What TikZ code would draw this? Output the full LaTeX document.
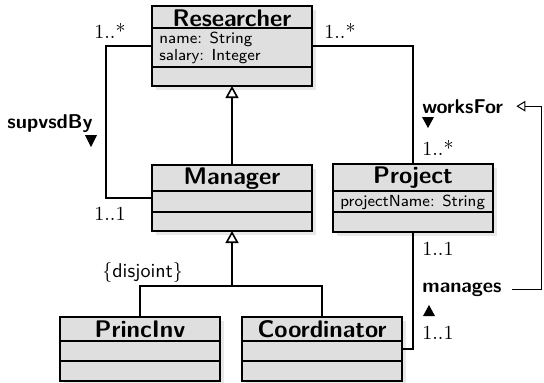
\documentclass[tikz,border=0pt]{standalone}
\usetikzlibrary{shadows,arrows.meta,calc}

\definecolor{classfill}{gray}{0.875}
\definecolor{shadowfill}{gray}{0.91}

\tikzset{
  classbox/.style={draw, line width=0.9pt, fill=classfill, minimum width=80pt,
    inner sep=0pt, outer sep=0pt, anchor=north west,
    drop shadow={shadow xshift=2pt, shadow yshift=-2pt, fill=shadowfill, opacity=1}},
  divider/.style={line width=0.9pt},
  clsname/.style={inner sep=0pt, anchor=base, font=\large\sffamily\bfseries},
  clsattr/.style={inner sep=0pt, anchor=base west, font=\footnotesize\sffamily},
  assoc/.style={line width=0.8pt},
  generalize/.style={line width=0.8pt, -{Triangle[open, width=6.5pt, length=6pt]}},
  constraint/.style={line width=0.5pt, -{Triangle[open, width=5.3pt, length=4.5pt]}},
  mult/.style={inner sep=0pt, anchor=base west},
  role/.style={inner sep=0pt, anchor=base west, font=\sffamily\bfseries},
}

% horizontal compartment line of class #1, #2 below its top edge
\newcommand\compartment[2]{\draw[divider] ([yshift=-#2]#1.north west) -- ([yshift=-#2]#1.north east);}

\begin{document}
\begin{tikzpicture}[x=0.5pt, y=-0.5pt]
\useasboundingbox (0,0) rectangle (544,382);

% Researcher
\node[classbox, minimum height=40pt] (res) at (152,6) {};
\compartment{res}{11pt}
\compartment{res}{30.5pt}
\node[clsname] (res-n) at ([yshift=-10pt]res.north) {Researcher};
\node[clsattr] (res-a1) at ([xshift=3.5pt, yshift=-18.5pt]res.north west) {name: String};
\node[clsattr] (res-a2) at ([xshift=3.5pt, yshift=-27pt]res.north west) {salary: Integer};

% Manager
\node[classbox, minimum height=33pt] (man) at (152,165) {};
\compartment{man}{13pt}
\compartment{man}{23.5pt}
\node[clsname] (man-n) at ([yshift=-9.5pt]man.north) {Manager};

% Project
\node[classbox, minimum height=34pt] (proj) at (333,164) {};
\compartment{proj}{13.5pt}
\compartment{proj}{24pt}
\node[clsname] (proj-n) at ([yshift=-9.75pt]proj.north) {Project};
\node[clsattr] (proj-a1) at ([xshift=3.5pt, yshift=-21pt]proj.north west) {projectName: String};

% PrincInv
\node[classbox, minimum height=32pt] (pi) at (60,317) {};
\compartment{pi}{12pt}
\compartment{pi}{22pt}
\node[clsname] (pi-n) at ([yshift=-10pt]pi.north) {PrincInv};

% Coordinator
\node[classbox, minimum height=32pt] (coord) at (242,317) {};
\compartment{coord}{12pt}
\compartment{coord}{22pt}
\node[clsname] (coord-n) at ([yshift=-10pt]coord.north) {Coordinator};

% generalizations
\draw[generalize] (man.north) -- (res.south);
\path (man.south) ++(0,55) coordinate (g);
\draw[assoc] (pi.north) |- (g) -| (coord.north);
\draw[generalize] (g) -- (man.south);
\node[mult] (dj) at (102,277) {$\{$\textsf{disjoint}$\}$};

% supvsdBy
\draw[assoc] (res.west) -- ++(-46,0) |- (man.west);
\node[mult] (m1) at (94,38) {1..*};
\node[mult] (m2) at (94,220) {1..1};
\node[role] (supl) at (7,128) {supvsdBy};
\fill (85,135) -- (97,135) -- (91,147) -- cycle;

% worksFor
\draw[assoc] (res.east) -| (proj.north);
\node[mult] (m3) at (324,38) {1..*};
\node[mult] (m4) at (422,155) {1..*};
\node[role] (worksl) at (422,113) {worksFor};
\fill (422,117) -- (434,117) -- (428,128) -- cycle;

% manages
\draw[assoc] (proj.south) |- (coord.east);
\node[mult] (m5) at (422,255) {1..1};
\node[mult] (m6) at (422,339) {1..1};
\node[role] (managesl) at (422,292) {manages};
\fill (423,316) -- (435,316) -- (429,305) -- cycle;

% manages is a subset of worksFor
\coordinate (cr) at (541,0);
\draw[constraint] ([xshift=5pt]managesl.east) -- (managesl.east -| cr) |- ([xshift=6.5pt]worksl.east);
\end{tikzpicture}
\end{document}
